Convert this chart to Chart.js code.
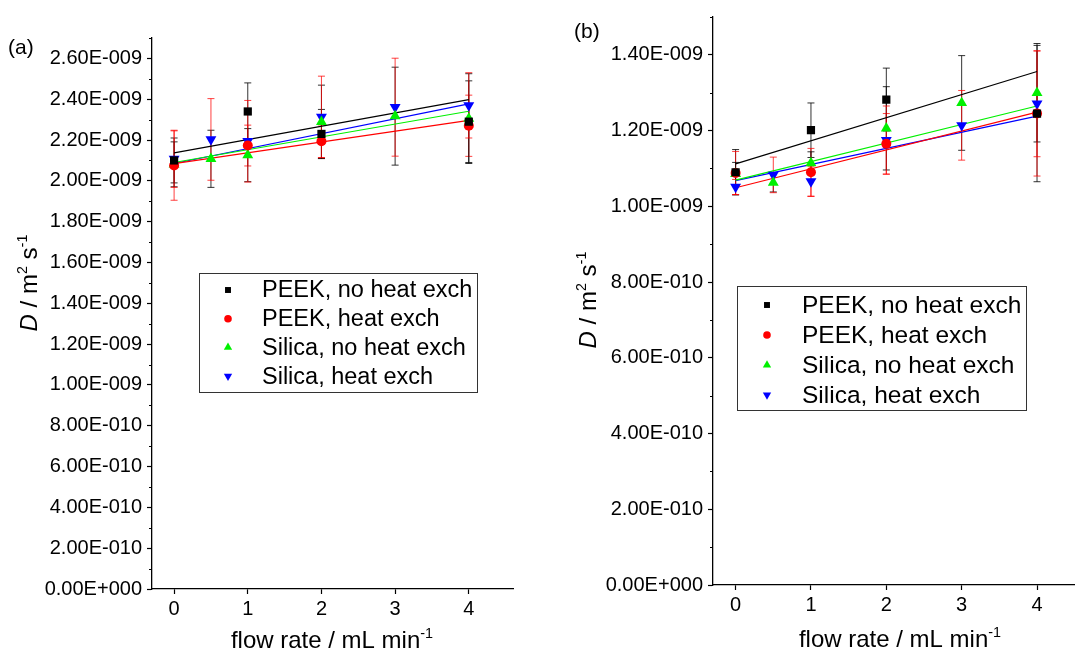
<!DOCTYPE html>
<html>
<head>
<meta charset="utf-8">
<script src="https://cdn.jsdelivr.net/npm/chart.js@4.4.1/dist/chart.umd.min.js"></script>
<style>
  body { margin: 0; background: #fff; width: 1081px; height: 652px; overflow: hidden; position: relative; }
  .panel { position: absolute; top: 0; height: 652px; }
</style>
</head>
<body>
<div class="panel" style="left:0;width:545px"><canvas id="chart-a" width="545" height="652"></canvas></div>
<div class="panel" style="left:545px;width:536px"><canvas id="chart-b" width="536" height="652"></canvas></div>
<script>
// diffusion coefficient D vs flow rate, values in units of 1e-9 m2 s-1
const seriesNames = ["PEEK, no heat exch", "PEEK, heat exch", "Silica, no heat exch", "Silica, heat exch"];
const flowPeek = [0, 1, 2, 4];
const flowSilica = [0, 0.5, 1, 2, 3, 4];
const fitFlow = [0, 4];
const xTicks = [0, 1, 2, 3, 4];

// panel (a)
const aPeekNoHeat = [2.10, 2.34, 2.23, 2.29];
const aPeekNoHeatErr = [0.11, 0.14, 0.12, 0.20];
const aPeekHeat = [2.075, 2.173, 2.194, 2.27];
const aPeekHeatErr = [0.17, 0.10, 0.08, 0.15];
const aSilicaNoHeat = [2.081, 2.108, 2.126, 2.289, 2.317, 2.305];
const aSilicaNoHeatErr = [0.11, 0.14, 0.13, 0.18, 0.24, 0.22];
const aSilicaHeat = [2.108, 2.203, 2.194, 2.313, 2.361, 2.37];
const aSilicaHeatErr = [0.14, 0.20, 0.20, 0.20, 0.24, 0.16];
const aFitPeekNoHeat = [2.137, 2.398];
const aFitPeekHeat = [2.084, 2.296];
const aFitSilicaNoHeat = [2.09, 2.341];
const aFitSilicaHeat = [2.085, 2.377];
const aYTicks = [0, 0.2, 0.4, 0.6, 0.8, 1.0, 1.2, 1.4, 1.6, 1.8, 2.0, 2.2, 2.4, 2.6];

// panel (b)
const bPeekNoHeat = [1.090, 1.201, 1.282, 1.245];
const bPeekNoHeatErr = [0.06, 0.072, 0.083, 0.18];
const bPeekHeat = [1.088, 1.090, 1.165, 1.245];
const bPeekHeatErr = [0.057, 0.063, 0.08, 0.165];
const bSilicaNoHeat = [1.086, 1.063, 1.114, 1.206, 1.273, 1.30];
const bSilicaNoHeatErr = [0.03, 0.025, 0.03, 0.11, 0.125, 0.13];
const bSilicaHeat = [1.051, 1.083, 1.066, 1.175, 1.214, 1.271];
const bSilicaHeatErr = [0.02, 0.047, 0.04, 0.09, 0.092, 0.14];
const bFitPeekNoHeat = [1.112, 1.356];
const bFitPeekHeat = [1.049, 1.249];
const bFitSilicaNoHeat = [1.069, 1.265];
const bFitSilicaHeat = [1.068, 1.238];
const bYTicks = [0, 0.2, 0.4, 0.6, 0.8, 1.0, 1.2, 1.4];

const FONT = '"Liberation Sans", Arial, Helvetica, sans-serif';
const colors = ["#000000", "#ff0000", "#00f000", "#0000ff"];
const errColors = ["rgba(0,0,0,0.8)", "rgba(255,0,0,0.75)", "rgba(0,0,0,0.8)", "rgba(255,0,0,0.75)"];
const styles = [
  { pointStyle: "rect", radius: 5.8, rotation: 0 },
  { pointStyle: "circle", radius: 5, rotation: 0 },
  { pointStyle: "triangle", radius: 6.3, rotation: 0 },
  { pointStyle: "triangle", radius: 6.3, rotation: 180 },
];

// 2.6 -> "2.60E-009"
function sciLabel(v) {
  if (Math.abs(v) < 1e-9) return "0.00E+000";
  const exp = Math.floor(Math.log10(v) + 1e-9);
  const man = v / Math.pow(10, exp);
  const e = exp - 9;
  return man.toFixed(2) + "E" + (e < 0 ? "-" : "+") + String(Math.abs(e)).padStart(3, "0");
}

function pts(xs, ys) {
  return xs.map((x, i) => ({ x: x, y: ys[i] }));
}

function buildDatasets(marks, errs, fits) {
  const xsList = [flowPeek, flowPeek, flowSilica, flowSilica];
  const sets = [];
  // fit lines under the markers
  fits.forEach((f, i) => {
    sets.push({
      data: pts(fitFlow, f),
      showLine: true,
      borderColor: colors[i],
      borderWidth: 1.2,
      pointRadius: 0,
      order: 3,
    });
  });
  marks.forEach((m, i) => {
    sets.push({
      label: seriesNames[i],
      data: pts(xsList[i], m),
      errors: errs[i],
      errorColor: errColors[i],
      backgroundColor: colors[i],
      borderColor: colors[i],
      pointStyle: styles[i].pointStyle,
      pointRadius: styles[i].radius,
      pointRotation: styles[i].rotation,
      pointBorderWidth: 0,
      showLine: false,
      order: 1,
    });
  });
  return sets;
}

function drawMarker(ctx, style, x, y, r, color) {
  ctx.save();
  ctx.fillStyle = color;
  ctx.beginPath();
  if (style.pointStyle === "rect") {
    const s = r * Math.SQRT1_2;
    ctx.rect(x - s, y - s, 2 * s, 2 * s);
  } else if (style.pointStyle === "circle") {
    ctx.arc(x, y, r, 0, Math.PI * 2);
  } else {
    const dir = style.rotation ? -1 : 1;
    ctx.moveTo(x, y - dir * r);
    ctx.lineTo(x + r * 0.866, y + dir * r * 0.5);
    ctx.lineTo(x - r * 0.866, y + dir * r * 0.5);
    ctx.closePath();
  }
  ctx.fill();
  ctx.restore();
}

function drawRich(ctx, pieces, size) {
  const fontOf = (p) => (p.italic ? "italic " : "") + (p.sup ? size * 0.6 : size) + "px " + FONT;
  let total = 0;
  pieces.forEach((p) => {
    ctx.font = fontOf(p);
    p.w = ctx.measureText(p.t).width;
    total += p.w;
  });
  let x = -total / 2;
  ctx.textAlign = "left";
  ctx.textBaseline = "alphabetic";
  pieces.forEach((p) => {
    ctx.font = fontOf(p);
    ctx.fillText(p.t, x, p.sup ? -size * 0.4 : 0);
    x += p.w;
  });
}

const decor = {
  id: "decor",
  beforeDatasetsDraw(chart) {
    const ctx = chart.ctx;
    const xs = chart.scales.x, ys = chart.scales.y;
    ctx.save();
    ctx.lineWidth = 1;
    chart.data.datasets.forEach((ds) => {
      if (!ds.errors) return;
      ctx.strokeStyle = ds.errorColor;
      ds.data.forEach((p, i) => {
        const px = xs.getPixelForValue(p.x);
        const top = ys.getPixelForValue(p.y + ds.errors[i]);
        const bot = ys.getPixelForValue(p.y - ds.errors[i]);
        ctx.beginPath();
        ctx.moveTo(px, top); ctx.lineTo(px, bot);
        ctx.moveTo(px - 3.5, top); ctx.lineTo(px + 3.5, top);
        ctx.moveTo(px - 3.5, bot); ctx.lineTo(px + 3.5, bot);
        ctx.stroke();
      });
    });
    ctx.restore();
  },
  afterDraw(chart, args, opts) {
    const ctx = chart.ctx;
    const ys = chart.scales.y;
    const area = chart.chartArea;
    ctx.save();
    // minor ticks on the y axis
    ctx.strokeStyle = "#000";
    ctx.lineWidth = 1;
    const yt = opts.yTicks;
    yt.forEach((v) => {
      const m = v + 0.1;
      if (m > ys.max + 1e-9) return;
      const py = Math.round(ys.getPixelForValue(m)) + 0.5;
      ctx.beginPath();
      ctx.moveTo(area.left, py);
      ctx.lineTo(area.left - 3, py);
      ctx.stroke();
    });

    // legend box
    const lg = opts.legend;
    ctx.strokeStyle = "#333";
    ctx.lineWidth = 1;
    ctx.strokeRect(lg.left + 0.5, lg.top + 0.5, lg.width, lg.height);
    ctx.fillStyle = "#000";
    ctx.font = lg.fontSize + "px " + FONT;
    ctx.textAlign = "left";
    ctx.textBaseline = "middle";
    seriesNames.forEach((name, i) => {
      const cy = lg.firstRow + i * lg.rowH;
      const r = styles[i].pointStyle === "rect" ? 4.2 : styles[i].pointStyle === "circle" ? 3.8 : 4.8;
      drawMarker(ctx, styles[i], lg.markerX, cy, r, colors[i]);
      ctx.fillStyle = "#000";
      ctx.fillText(name, lg.textX, cy + 1);
    });

    // axis titles
    ctx.fillStyle = "#000";
    const t = opts.titles;
    ctx.save();
    ctx.translate(t.xCx, t.xBase);
    drawRich(ctx, [{ t: "flow rate / mL min" }, { t: "-1", sup: true }], t.size);
    ctx.restore();
    ctx.save();
    ctx.translate(t.yBase, t.yCy);
    ctx.rotate(-Math.PI / 2);
    drawRich(ctx, [{ t: "D", italic: true }, { t: " / m" }, { t: "2", sup: true }, { t: " s" }, { t: "-1", sup: true }], t.size);
    ctx.restore();

    // panel label
    ctx.font = "21px " + FONT;
    ctx.textAlign = "left";
    ctx.textBaseline = "middle";
    ctx.fillText(opts.panel.text, opts.panel.x, opts.panel.y);
    ctx.restore();
  },
};

function makeChart(id, cfg) {
  return new Chart(document.getElementById(id), {
    type: "scatter",
    data: { datasets: buildDatasets(cfg.marks, cfg.errs, cfg.fits) },
    options: {
      responsive: false,
      animation: false,
      devicePixelRatio: 1,
      layout: { padding: cfg.padding },
      plugins: {
        legend: { display: false },
        tooltip: { enabled: false },
        decor: cfg.decor,
      },
      scales: {
        x: {
          type: "linear",
          min: -0.3,
          max: cfg.xMax,
          afterBuildTicks: (s) => { s.ticks = xTicks.map((v) => ({ value: v })); },
          afterFit: (s) => { s.height = cfg.xHeight; },
          grid: { drawOnChartArea: false, drawTicks: true, tickLength: 5, color: "#000", tickWidth: 1.2 },
          border: { display: true, color: "#000", width: 1.3 },
          ticks: { font: { family: FONT, size: 20 }, color: "#000", padding: 3, maxRotation: 0, autoSkip: false },
        },
        y: {
          type: "linear",
          min: 0,
          max: cfg.yMax,
          afterBuildTicks: (s) => { s.ticks = cfg.yTicks.map((v) => ({ value: v })); },
          afterFit: (s) => { s.width = cfg.yWidth; },
          grid: { drawOnChartArea: false, drawTicks: true, tickLength: 5, color: "#000", tickWidth: 1.2 },
          border: { display: true, color: "#000", width: 1.3 },
          ticks: {
            font: { family: FONT, size: 20 },
            color: "#000",
            padding: 5,
            autoSkip: false,
            callback: (v) => sciLabel(v),
          },
        },
      },
    },
    plugins: [decor],
  });
}

makeChart("chart-a", {
  marks: [aPeekNoHeat, aPeekHeat, aSilicaNoHeat, aSilicaHeat],
  errs: [aPeekNoHeatErr, aPeekHeatErr, aSilicaNoHeatErr, aSilicaHeatErr],
  fits: [aFitPeekNoHeat, aFitPeekHeat, aFitSilicaNoHeat, aFitSilicaHeat],
  yTicks: aYTicks,
  yMax: 2.7,
  xMax: 4.6,
  yWidth: 152,
  xHeight: 63,
  padding: { top: 38, right: 32, bottom: 0, left: 0 },
  decor: {
    yTicks: aYTicks,
    legend: { left: 199, top: 273, width: 278, height: 119, firstRow: 290, rowH: 28.7, markerX: 228, textX: 262, fontSize: 23.5 },
    titles: { size: 24, xCx: 332, xBase: 648, yBase: 37, yCy: 283 },
    panel: { text: "(a)", x: 8, y: 48 },
  },
});

makeChart("chart-b", {
  marks: [bPeekNoHeat, bPeekHeat, bSilicaNoHeat, bSilicaHeat],
  errs: [bPeekNoHeatErr, bPeekHeatErr, bSilicaNoHeatErr, bSilicaHeatErr],
  fits: [bFitPeekNoHeat, bFitPeekHeat, bFitSilicaNoHeat, bFitSilicaHeat],
  yTicks: bYTicks,
  yMax: 1.5,
  xMax: 4.5,
  yWidth: 168,
  xHeight: 67,
  padding: { top: 13, right: 0, bottom: 0, left: 0 },
  decor: {
    yTicks: bYTicks,
    legend: { left: 192, top: 286, width: 289, height: 124, firstRow: 305, rowH: 30, markerX: 222, textX: 257, fontSize: 24.5 },
    titles: { size: 24, xCx: 355, xBase: 647, yBase: 51, yCy: 300 },
    panel: { text: "(b)", x: 29, y: 32 },
  },
});
</script>
</body>
</html>
